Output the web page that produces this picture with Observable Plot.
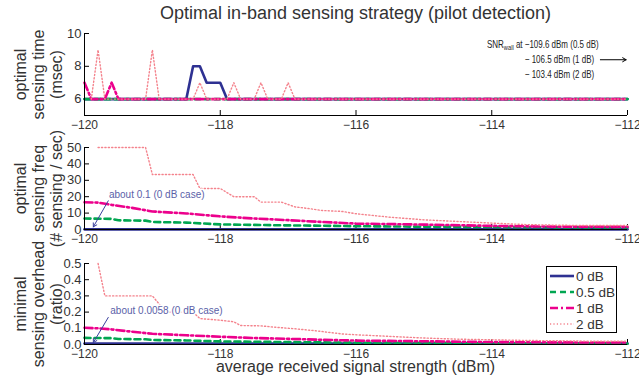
<!DOCTYPE html>
<html><head><meta charset="utf-8">
<script src="https://cdn.jsdelivr.net/npm/d3@7"></script>
<script src="https://cdn.jsdelivr.net/npm/@observablehq/plot@0.6"></script>
<style>
body{margin:0;background:#fff;font-family:"Liberation Sans",Arial,sans-serif;color:#333;}
#wrap{position:relative;width:639px;height:381px;overflow:hidden;background:#fff;}
.abs{position:absolute;}
#title{left:0;width:711px;top:3px;text-align:center;font-size:18px;color:#333;white-space:nowrap;}
#xlabel{left:0;width:711px;top:358px;text-align:center;font-size:16px;color:#333;white-space:nowrap;}
#snr{left:487px;top:37px;font-size:10.5px;line-height:15px;color:#222;display:flex;align-items:flex-start;white-space:nowrap;transform:scaleX(0.76);transform-origin:0 0;}
#snr sub{font-size:7.5px;vertical-align:-2px;line-height:0;}
#legend{left:546px;top:266px;width:69px;height:65px;border:1.5px solid #000;background:#fff;}
</style></head><body>
<div id="wrap">
  <div id="title" class="abs">Optimal in-band sensing strategy (pilot detection)</div>
  <div id="xlabel" class="abs">average received signal strength (dBm)</div>
</div>
<script>
// ---- axis ticks ----
const xTicks = [-120, -118, -116, -114, -112];
const timeTicks = [6, 8, 10];
const freqTicks = [0, 10, 20, 30, 40, 50];
const ovhTicks = [0, 0.1, 0.2, 0.3, 0.4, 0.5];
const seriesNames = ["0 dB", "0.5 dB", "1 dB", "2 dB"];
const panelLabels = [["optimal", "sensing time", "(msec)"], ["optimal", "sensing freq", "(# sensing / sec)"], ["minimal", "sensing overhead", "(ratio)"]];

// ---- optimal sensing time (msec) ----
const time0X = [-120, -118.5, -118.4, -118.3, -118.2, -118.0, -117.9, -112];
const time0Y = [6, 6, 8, 8, 7, 7, 6, 6];
const time05X = [-120, -112];
const time05Y = [6, 6];
const time1X = [-120, -119.9, -119.7, -119.6, -119.5, -112];
const time1Y = [7, 6, 6, 7, 6, 6];
const time2X = [-119.9, -119.8, -119.7, -119.1, -119.0, -118.9, -118.4, -118.3, -118.2, -117.9, -117.8, -117.7, -117.5, -117.4, -117.3, -117.1, -117.0, -116.9, -112];
const time2Y = [6, 9, 6, 6, 9, 6, 6, 7, 6, 6, 7, 6, 6, 7, 6, 6, 7, 6, 6];

// ---- optimal sensing frequency (# / sec) ----
const freq0X = [-120, -112];
const freq0Y = [0.1, 0.1];
const freq05X = [-120, -119.6, -119.5, -119.1, -119.0, -118.5, -118.0, -117.5, -117.0, -116.5, -116.0, -115.0, -114.0, -113.0, -112.0];
const freq05Y = [6.7, 6.5, 5.6, 5.4, 4.6, 4.2, 3.1, 2.8, 2.5, 2.3, 2.0, 1.7, 1.5, 1.3, 1.2];
const freq1X = [-120, -119.8, -119.6, -119.3, -119.0, -118.5, -118.0, -117.5, -117.0, -116.5, -116.0, -115.0, -114.0, -113.0, -112.0];
const freq1Y = [16.6, 16.4, 15, 13.2, 11, 9.8, 8, 6.7, 5.7, 4.6, 3.6, 3.0, 2.2, 1.7, 1.6];
const freq2X = [-119.8, -119.1, -119.0, -118.4, -118.3, -118.0, -117.8, -117.5, -117.4, -117.1, -116.9, -116.7, -116.5, -116.2, -116.0, -115.5, -115.0, -114.5, -114.0, -113.5, -113.0, -112.5, -112.0];
const freq2Y = [50, 50, 33.5, 33.5, 25, 25, 20, 20, 16.7, 16.7, 13.8, 12.8, 11.6, 11, 9.6, 7.5, 5.9, 4.9, 3.9, 3.0, 2.6, 2.4, 2.4];

// ---- minimal sensing overhead (ratio) ----
const ovh0X = [-120, -112];
const ovh0Y = [0.0058, 0.0058];
const ovh05X = freq05X;
const ovh05Y = [0.041, 0.039, 0.034, 0.032, 0.028, 0.025, 0.019, 0.017, 0.015, 0.013, 0.011, 0.009, 0.007, 0.006, 0.005];
const ovh1X = freq1X;
const ovh1Y = [0.103, 0.1, 0.093, 0.079, 0.066, 0.057, 0.048, 0.04, 0.035, 0.029, 0.024, 0.02, 0.015, 0.013, 0.012];
const ovh2X = [-119.8, -119.7, -119.0, -118.9, -118.8, -118.4, -118.3, -118.0, -117.8, -117.7, -117.4, -117.2, -116.9, -116.6, -116.4, -116.2, -116.0, -115.5, -115.0, -114.5, -114.0, -113.5, -113.0, -112.5, -112.0];
const ovh2Y = [0.5, 0.3, 0.3, 0.25, 0.2, 0.2, 0.16, 0.15, 0.14, 0.117, 0.115, 0.107, 0.097, 0.085, 0.075, 0.065, 0.06, 0.05, 0.04, 0.033, 0.029, 0.025, 0.023, 0.02, 0.02];

// ---- annotations ----
const snrArrow = [{x1: -112.4, y1: 8.4, x2: -112.02, y2: 8.4}];
const freqNote = [{x: -119.64, y: 21.3, text: "about 0.1 (0 dB case)"}];
const freqArrow = [{x1: -119.65, y1: 17.5, x2: -119.87, y2: 1.6}];
const ovhNote = [{x: -119.62, y: 0.21, text: "about 0.0058 (0 dB case)"}];
const ovhArrow = [{x1: -119.65, y1: 0.167, x2: -119.87, y2: 0.012}];

// ---- styles ----
const lineStyles = {
  "0 dB":   {stroke: "#2e3192", strokeWidth: 2.6, strokeDasharray: null},
  "0.5 dB": {stroke: "#00a651", strokeWidth: 2.6, strokeDasharray: "6,4"},
  "1 dB":   {stroke: "#ec008c", strokeWidth: 2.6, strokeDasharray: "8,3,2,3"},
  "2 dB":   {stroke: "#f4828c", strokeWidth: 1.4, strokeDasharray: "1.2,2.2"}
};
const noteColor = "#5b5fa8";
const arrowColor = "#3a3f9e";

const rows = (xs, ys) => xs.map((x, i) => ({x, y: ys[i]}));

const panels = [
  {series: [rows(time0X, time0Y), rows(time05X, time05Y), rows(time1X, time1Y), rows(time2X, time2Y)],
   domain: [5, 10], ticks: timeTicks, top: 18, marginTop: 15, plotH: 82, label: panelLabels[0],
   extra: [Plot.arrow(snrArrow, {x1: "x1", y1: "y1", x2: "x2", y2: "y2", stroke: "#000", strokeWidth: 1, headLength: 6})]},
  {series: [rows(freq0X, freq0Y), rows(freq05X, freq05Y), rows(freq1X, freq1Y), rows(freq2X, freq2Y)],
   domain: [0, 50], ticks: freqTicks, top: 133, marginTop: 14, plotH: 82, label: panelLabels[1],
   extra: [
     Plot.text(freqNote, {x: "x", y: "y", text: "text", textAnchor: "start", fill: noteColor, fontSize: 10, stroke: "white", strokeWidth: 3, paintOrder: "stroke"}),
     Plot.arrow(freqArrow, {x1: "x1", y1: "y1", x2: "x2", y2: "y2", stroke: arrowColor, strokeWidth: 1, headLength: 6})
   ]},
  {series: [rows(ovh0X, ovh0Y), rows(ovh05X, ovh05Y), rows(ovh1X, ovh1Y), rows(ovh2X, ovh2Y)],
   domain: [0, 0.5], ticks: ovhTicks, top: 247, marginTop: 16, plotH: 81, label: panelLabels[2],
   extra: [
     Plot.text(ovhNote, {x: "x", y: "y", text: "text", textAnchor: "start", fill: noteColor, fontSize: 10, stroke: "white", strokeWidth: 3, paintOrder: "stroke"}),
     Plot.arrow(ovhArrow, {x1: "x1", y1: "y1", x2: "x2", y2: "y2", stroke: arrowColor, strokeWidth: 1, headLength: 6})
   ]}
];

const wrap = document.getElementById("wrap");
panels.forEach(p => {
  const lineMarks = p.series.map((data, i) => Plot.line(data, {x: "x", y: "y", ...lineStyles[seriesNames[i]]}));
  const labelMarks = p.label.map((t, i) => Plot.text([t], {frameAnchor: "left", dx: -64 + i * 18, rotate: -90, textAnchor: "middle", lineAnchor: "middle", fontSize: 16, fill: "#333", text: d => d}));
  const chart = Plot.plot({
    width: 639, height: p.marginTop + p.plotH + 18,
    marginLeft: 84, marginRight: 12, marginTop: p.marginTop, marginBottom: 18,
    x: {domain: [-120, -112]},
    y: {domain: p.domain},
    style: {fontFamily: "Liberation Sans, Arial, sans-serif", fontSize: "13px", color: "#333", background: "transparent", overflow: "visible"},
    marks: [
      Plot.axisX(xTicks, {tickSize: -5, tickPadding: 10, label: null, stroke: "#000", fontSize: 12}),
      Plot.axisY(p.ticks, {tickSize: -5, tickPadding: 8, label: null, stroke: "#000"}),
      ...lineMarks,
      ...p.extra,
      Plot.ruleX([-120], {stroke: "#000", strokeWidth: 1}),
      Plot.ruleY([p.domain[0]], {stroke: "#000", strokeWidth: 1}),
      ...labelMarks
    ]
  });
  chart.style.position = "absolute";
  chart.style.left = "0px";
  chart.style.top = p.top + "px";
  wrap.appendChild(chart);
});

// SNR annotation (HTML for subscript)
const snr = document.createElement("div");
snr.id = "snr"; snr.className = "abs";
snr.innerHTML = '<span>SNR<sub>wall</sub> at&nbsp;</span><span>−109.6 dBm (0.5 dB)<br>− 106.5 dBm (1 dB)<br>− 103.4 dBm (2 dB)</span>';
wrap.appendChild(snr);

// legend
const legend = d3.select(wrap).append("div").attr("id", "legend").attr("class", "abs");
const lsvg = legend.append("svg").attr("width", 69).attr("height", 65);
seriesNames.forEach((name, i) => {
  const st = lineStyles[name];
  const yy = 9 + i * 16;
  lsvg.append("line").attr("x1", 3).attr("x2", 27).attr("y1", yy).attr("y2", yy)
    .attr("stroke", st.stroke).attr("stroke-width", st.strokeWidth)
    .attr("stroke-dasharray", st.strokeDasharray);
  lsvg.append("text").attr("x", 29).attr("y", yy).attr("dy", "0.36em")
    .attr("font-size", 13.5).attr("fill", "#333").attr("font-family", "Liberation Sans, Arial, sans-serif").text(name);
});
</script>
</body></html>
